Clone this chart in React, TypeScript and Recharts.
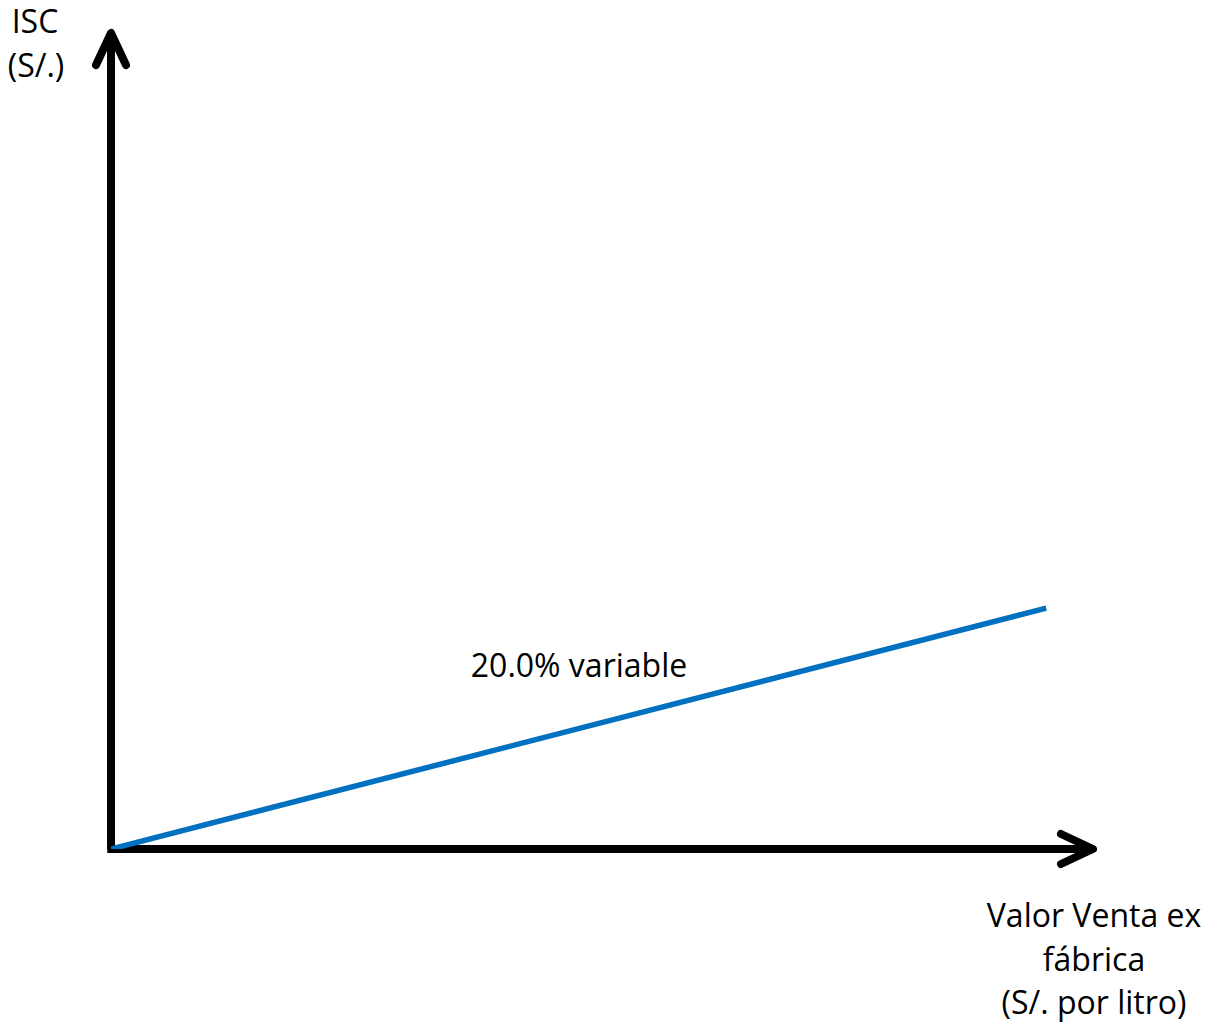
import React from 'react';
import { LineChart, Line, XAxis, YAxis, ReferenceLine, Customized } from 'recharts';

const lineData = [
  { x: 0, y: 0 },
  { x: 100, y: 20 },
];
const xDomain = [0, 105];
const yDomain = [0, 68];
const yAxisTitle = ['ISC', '(S/.)'];
const xAxisTitle = ['Valor Venta ex', 'fábrica', '(S/. por litro)'];
const lineLabel = '20.0% variable';

const FONT = '"Open Sans", sans-serif';

const ArrowShape = (props: any) => {
  const { x1, y1, x2, y2 } = props;
  const dx = x2 - x1;
  const dy = y2 - y1;
  const len = Math.sqrt(dx * dx + dy * dy) || 1;
  const ux = dx / len;
  const uy = dy / len;
  const back = 32;
  const side = 15;
  const bx = x2 - ux * back;
  const by = y2 - uy * back;
  const px = -uy * side;
  const py = ux * side;
  return (
    <g>
      <line x1={x1} y1={y1} x2={x2} y2={y2} stroke="#000" strokeWidth={8} />
      <polyline
        points={`${bx + px},${by + py} ${x2},${y2} ${bx - px},${by - py}`}
        fill="none"
        stroke="#000"
        strokeWidth={8}
        strokeLinecap="round"
        strokeLinejoin="round"
      />
    </g>
  );
};

const Texts = () => (
  <g fontFamily={FONT} fontSize={32} fill="#000">
    <text x={35} y={33} textAnchor="middle">{yAxisTitle[0]}</text>
    <text x={36} y={77} textAnchor="middle">{yAxisTitle[1]}</text>
    <text x={1094} y={927} textAnchor="middle">{xAxisTitle[0]}</text>
    <text x={1094} y={971} textAnchor="middle">{xAxisTitle[1]}</text>
    <text x={1094} y={1014} textAnchor="middle">{xAxisTitle[2]}</text>
    <text x={579} y={677} textAnchor="middle">{lineLabel}</text>
  </g>
);

export default function App() {
  return (
    <div style={{ position: 'absolute', left: 0, top: 0, background: '#fff' }}>
      <LineChart
        width={1211}
        height={1023}
        data={lineData}
        margin={{ top: 30, right: 118, bottom: 174, left: 111 }}
      >
        <XAxis type="number" dataKey="x" domain={xDomain} allowDataOverflow hide />
        <YAxis type="number" domain={yDomain} allowDataOverflow hide />
        <ReferenceLine
          segment={[{ x: 0, y: 0 }, { x: 0, y: 67.75 }]}
          ifOverflow="visible"
          shape={ArrowShape}
        />
        <ReferenceLine
          segment={[{ x: -0.4, y: 0 }, { x: 105, y: 0 }]}
          ifOverflow="visible"
          shape={ArrowShape}
        />
        <Line
          type="linear"
          dataKey="y"
          stroke="#0070C0"
          strokeWidth={5.5}
          dot={false}
          isAnimationActive={false}
        />
        <Customized component={Texts} />
      </LineChart>
    </div>
  );
}
